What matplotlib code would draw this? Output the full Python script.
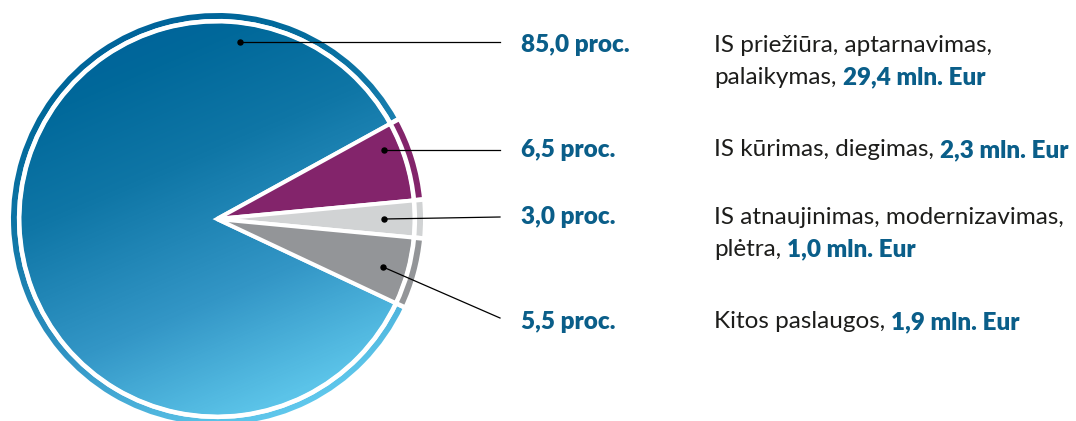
import numpy as np
import matplotlib.pyplot as plt
from matplotlib.colors import LinearSegmentedColormap

# data
shares = [85.0, 6.5, 3.0, 5.5]
amounts = [29.4, 2.3, 1.0, 1.9]
desc_lines = [
    ['IS priežiūra, aptarnavimas,', 'palaikymas,'],
    ['IS kūrimas, diegimas,'],
    ['IS atnaujinimas, modernizavimas,', 'plėtra,'],
    ['Kitos paslaugos,'],
]
colors = ['#0a6c9c', '#83246b', '#d1d3d4', '#939598']

BLUE_TXT = '#0a5e89'
DARK_TXT = '#1d1d1b'
FAM = ['Lato', 'DejaVu Sans']

W, H = 1076, 421
fig = plt.figure(figsize=(W / 100, H / 100), dpi=100)
ax = fig.add_axes([0, 0, 1, 1])

cx, cy = 217, H - 219
start = -25.2

# pie and the thin outer ring
wedges, _ = ax.pie(shares, colors=colors, center=(cx, cy), radius=198,
                   startangle=start, counterclock=False, frame=True,
                   wedgeprops=dict(edgecolor='white', linewidth=2.9))
ring, _ = ax.pie(shares, colors=colors, center=(cx, cy), radius=208.3,
                 startangle=start, counterclock=False, frame=True,
                 wedgeprops=dict(width=10.5, edgecolor='white', linewidth=3.3))

# gradient fill for the big blue slice
X, Y = np.meshgrid(np.arange(W) + 0.5, np.arange(H) + 0.5)
proj = X * 0.39 + Y * 0.92
tval = np.clip((proj - 80) / 412, 0, 1)
cmap = LinearSegmentedColormap.from_list('blu', [
    (0.0, '#00649a'), (0.085, '#00689a'), (0.34, '#0f76a6'),
    (0.68, '#3396c6'), (0.96, '#5bc3e8'), (1.0, '#5fc7ec')])
for patch in (wedges[0], ring[0]):
    patch.set_facecolor('none')
    im = ax.imshow(tval, cmap=cmap, extent=(0, W, 0, H), origin='upper',
                   zorder=0.5, interpolation='bilinear')
    im.set_clip_path(patch)

# leader lines
anchors = [(240, 42), (384, 150), (384, 219), (383, 267)]
ends = [(500, 42), (500, 150), (500, 217), (500, 318)]
rows = [45, 150, 217, 322]

for i in range(len(shares)):
    (ax0, ay0), (ex, ey) = anchors[i], ends[i]
    ax.plot([ax0, ex], [H - ay0, H - ey], color='black', lw=0.9, zorder=3)
    ax.plot(ax0, H - ay0, 'o', color='black', ms=3.6, zorder=3)

    pct = f'{shares[i]:.1f}'.replace('.', ',') + ' proc.'
    ax.text(521, H - rows[i], pct, fontsize=17.5, fontweight='heavy',
            color=BLUE_TXT, va='center', ha='left', family=FAM)

    y = H - rows[i]
    for j, line in enumerate(desc_lines[i]):
        t = ax.text(714, y - 32 * j, line, fontsize=17.5, color=DARK_TXT,
                    va='center', ha='left', family=FAM)
    amt = f'{amounts[i]:.1f}'.replace('.', ',') + ' mln. Eur'
    ax.annotate(amt, xy=(1, 0.5), xycoords=t, xytext=(4.5, 0),
                textcoords='offset points', fontsize=17.5, fontweight='heavy',
                color=BLUE_TXT, va='center', ha='left', family=FAM)

ax.set_xlim(0, W)
ax.set_ylim(0, H)
ax.set_aspect('auto')
ax.axis('off')

fig.savefig('out.png', dpi=100)
